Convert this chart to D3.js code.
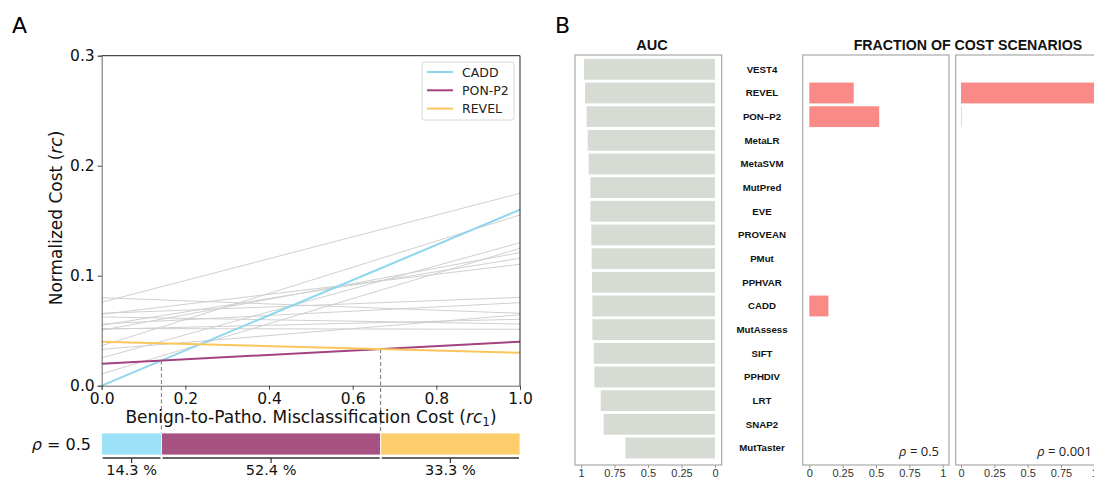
<!DOCTYPE html>
<html>
<head>
<meta charset="utf-8">
<script src="https://cdn.jsdelivr.net/npm/d3@7"></script>
<style>
  body { margin: 0; background: #fff; }
  svg { display: block; }
</style>
</head>
<body>
<div id="chart"></div>
<script>
// ---- panel A data ----
const highlightNames = ['CADD', 'PON-P2', 'REVEL']
const highlightStart = [0.0, 0.02, 0.04]
const highlightEnd = [0.16, 0.04, 0.03]
const highlightColors = ['#8dd6ee', '#a3427f', '#fbc75c']
const barColors = ['#9be0f4', '#a85283', '#fdcd6c']

const grayStart = [0.0758, 0.0364, 0.0253, 0.0107, 0.0504, 0.0549, 0.0649, 0.080, 0.0658, 0.0561, 0.0513, 0.0625, 0.052, 0.033]
const grayEnd = [0.1749, 0.1552, 0.130, 0.1249, 0.121, 0.1158, 0.1104, 0.0658, 0.0803, 0.0755, 0.0604, 0.0561, 0.0513, 0.0645]

const segmentShares = [0.143, 0.524, 0.333]
const segmentLabels = ['14.3 %', '52.4 %', '33.3 %']
const crossings = [1 / 7, 2 / 3]

// ---- panel B data ----
const tools = ['VEST4', 'REVEL', 'PON\u2013P2', 'MetaLR', 'MetaSVM', 'MutPred', 'EVE', 'PROVEAN', 'PMut', 'PPHVAR', 'CADD', 'MutAssess', 'SIFT', 'PPHDIV', 'LRT', 'SNAP2', 'MutTaster']
const auc = [0.978, 0.970, 0.958, 0.950, 0.943, 0.930, 0.930, 0.923, 0.920, 0.918, 0.915, 0.915, 0.905, 0.900, 0.853, 0.831, 0.669]
const fracRho05 = [0, 0.333, 0.524, 0, 0, 0, 0, 0, 0, 0, 0.143, 0, 0, 0, 0, 0, 0]
const fracRho0001 = [0, 1.0, 0.003, 0, 0, 0, 0, 0, 0, 0, 0, 0, 0, 0, 0, 0, 0]
const fracTicks = [0, 0.25, 0.5, 0.75, 1]

const svg = d3
  .select('#chart')
  .append('svg')
  .attr('width', 1094)
  .attr('height', 479)

const fontA = 'DejaVu Sans'
const fontB = 'Liberation Sans'

// ================= PANEL A =================
const xA = d3.scaleLinear().domain([0, 1]).range([101.7, 520])
const yA = d3.scaleLinear().domain([0, 0.3]).range([385.7, 55.7])

svg.append('text')
  .attr('x', 12).attr('y', 33)
  .attr('font-family', fontA).attr('font-size', 22)
  .text('A')

// gray lines
grayStart.forEach((s, i) => {
  svg.append('line')
    .attr('x1', xA(0)).attr('y1', yA(s))
    .attr('x2', xA(1)).attr('y2', yA(grayEnd[i]))
    .attr('stroke', '#d0d0d0').attr('stroke-width', 1)
})

// dashed crossing lines
crossings.forEach(c => {
  const yv = 0.02 + 0.02 * c
  svg.append('line')
    .attr('x1', xA(c)).attr('x2', xA(c))
    .attr('y1', yA(yv)).attr('y2', 433)
    .attr('stroke', '#8a8a8a').attr('stroke-width', 1.2)
    .attr('stroke-dasharray', '4,2.5')
})

// highlighted lines
highlightNames.forEach((n, i) => {
  svg.append('line')
    .attr('x1', xA(0)).attr('y1', yA(highlightStart[i]))
    .attr('x2', xA(1)).attr('y2', yA(highlightEnd[i]))
    .attr('stroke', highlightColors[i]).attr('stroke-width', 2)
})

// axes
const yAxisA = d3.axisLeft(yA).tickValues([0, 0.1, 0.2, 0.3]).tickFormat(d3.format('.1f')).tickSize(4).tickPadding(3)
const gy = svg.append('g').attr('transform', `translate(${xA(0)},0)`).call(yAxisA)
const xAxisA = d3.axisBottom(xA).tickValues([0, 0.2, 0.4, 0.6, 0.8, 1]).tickFormat(d3.format('.1f')).tickSize(4).tickPadding(3)
const gx = svg.append('g').attr('transform', `translate(0,${yA(0)})`).call(xAxisA)
;[gx, gy].forEach(g => {
  g.selectAll('text').attr('font-family', fontA).attr('font-size', 15.5).attr('fill', '#111')
  g.selectAll('line').attr('stroke', '#444')
  g.select('.domain').attr('stroke', '#666')
})
svg.append('line').attr('x1', xA(0)).attr('x2', xA(1)).attr('y1', yA(0.3)).attr('y2', yA(0.3)).attr('stroke', '#222')
svg.append('line').attr('x1', xA(1)).attr('x2', xA(1)).attr('y1', yA(0.3)).attr('y2', yA(0)).attr('stroke', '#222')

// axis labels
const yl = svg.append('text')
  .attr('transform', 'translate(62,218) rotate(-90)')
  .attr('text-anchor', 'middle')
  .attr('font-family', fontA).attr('font-size', 17).attr('fill', '#111')
yl.append('tspan').text('Normalized Cost (')
yl.append('tspan').attr('font-style', 'italic').text('rc')
yl.append('tspan').text(')')

const xl = svg.append('text')
  .attr('x', 311).attr('y', 423)
  .attr('text-anchor', 'middle')
  .attr('font-family', fontA).attr('font-size', 17).attr('fill', '#111')
xl.append('tspan').text('Benign-to-Patho. Misclassification Cost (')
xl.append('tspan').attr('font-style', 'italic').text('rc')
xl.append('tspan').attr('font-size', 12).attr('dy', 3).text('1')
xl.append('tspan').attr('dy', -3).text(')')

// legend
svg.append('rect')
  .attr('x', 422).attr('y', 62).attr('width', 92).attr('height', 58)
  .attr('rx', 2).attr('fill', '#fff').attr('fill-opacity', 0.85)
  .attr('stroke', '#d8d8d8')
highlightNames.forEach((n, i) => {
  const yy = 72 + i * 18.3
  svg.append('line')
    .attr('x1', 427).attr('x2', 453).attr('y1', yy).attr('y2', yy)
    .attr('stroke', highlightColors[i]).attr('stroke-width', 2)
  svg.append('text')
    .attr('x', 462).attr('y', yy + 4.5)
    .attr('font-family', fontA).attr('font-size', 12.5).attr('fill', '#222')
    .text(n)
})

// bottom bar
let cum = 0
const segs = segmentShares.map((s, i) => {
  const seg = { start: cum, end: cum + s, label: segmentLabels[i], color: barColors[i] }
  cum += s
  return seg
})
svg.selectAll('.seg')
  .data(segs)
  .enter()
  .append('rect')
  .attr('class', 'seg')
  .attr('x', d => xA(d.start))
  .attr('width', d => xA(d.end) - xA(d.start))
  .attr('y', 433)
  .attr('height', 22)
  .attr('fill', d => d.color)
  .attr('stroke', '#fff').attr('stroke-width', 0.8)

segs.forEach(d => {
  svg.append('line')
    .attr('x1', xA(d.start) + 1).attr('x2', xA(d.end) - 1)
    .attr('y1', 458).attr('y2', 458)
    .attr('stroke', '#333').attr('stroke-width', 1.5)
  const cx = xA((d.start + d.end) / 2)
  svg.append('line')
    .attr('x1', cx).attr('x2', cx).attr('y1', 458).attr('y2', 463)
    .attr('stroke', '#333').attr('stroke-width', 1.2)
  svg.append('text')
    .attr('x', cx).attr('y', 475)
    .attr('text-anchor', 'middle')
    .attr('font-family', fontA).attr('font-size', 14.5).attr('fill', '#111')
    .text(d.label)
})

const rl = svg.append('text')
  .attr('x', 91).attr('y', 450)
  .attr('text-anchor', 'end')
  .attr('font-family', fontA).attr('font-size', 16).attr('fill', '#111')
rl.append('tspan').attr('font-style', 'italic').text('\u03c1')
rl.append('tspan').text(' = 0.5')

// ================= PANEL B =================
svg.append('text')
  .attr('x', 555).attr('y', 33)
  .attr('font-family', fontA).attr('font-size', 22)
  .text('B')

const yB = d3.scaleBand().domain(tools).range([57.5, 459.8]).paddingInner(0.12).paddingOuter(0.06)
const boxTop = 55
const boxBottom = 465

function panelBox(x0, x1) {
  svg.append('rect')
    .attr('x', x0).attr('y', boxTop)
    .attr('width', x1 - x0).attr('height', boxBottom - boxTop)
    .attr('fill', 'none').attr('stroke', '#a9a9a9').attr('stroke-width', 1.2)
}

function bottomAxis(scale) {
  const g = svg.append('g')
    .attr('transform', `translate(0,${boxBottom})`)
    .call(d3.axisBottom(scale).tickValues(fracTicks).tickFormat(d => String(d)).tickSize(3).tickPadding(1))
  g.select('.domain').remove()
  g.selectAll('line').attr('stroke', '#999')
  g.selectAll('text').attr('font-family', fontB).attr('font-size', 11).attr('fill', '#333')
}

// AUC
const xAuc = d3.scaleLinear().domain([0, 1]).range([715, 581])
panelBox(575, 721.7)
svg.selectAll('.auc-bar')
  .data(tools)
  .enter()
  .append('rect')
  .attr('class', 'auc-bar')
  .attr('x', (d, i) => xAuc(auc[i]))
  .attr('width', (d, i) => xAuc(0) - xAuc(auc[i]))
  .attr('y', d => yB(d))
  .attr('height', yB.bandwidth())
  .attr('fill', '#d6dcd3')
bottomAxis(xAuc)

svg.append('text')
  .attr('x', 652).attr('y', 50)
  .attr('text-anchor', 'middle')
  .attr('font-family', fontB).attr('font-weight', 'bold').attr('font-size', 14.5)
  .attr('fill', '#111')
  .text('AUC')

// tool names
svg.selectAll('.tool-label')
  .data(tools)
  .enter()
  .append('text')
  .attr('class', 'tool-label')
  .attr('x', 762)
  .attr('y', d => yB(d) + yB.bandwidth() / 2 + 3.5)
  .attr('text-anchor', 'middle')
  .attr('font-family', fontB).attr('font-weight', 'bold').attr('font-size', 9.7)
  .attr('fill', '#111')
  .text(d => d)

// fraction panels
const fracPanels = [
  { values: fracRho05, box: [802.7, 949], range: [809.3, 942.7], rho: '0.5' },
  { values: fracRho0001, box: [955.7, 1102], range: [961, 1094.3], rho: '0.001' }
]
fracPanels.forEach(p => {
  const xs = d3.scaleLinear().domain([0, 1]).range(p.range)
  panelBox(p.box[0], p.box[1])
  svg.append('g')
    .selectAll('rect')
    .data(tools.filter((t, i) => p.values[i] > 0))
    .enter()
    .append('rect')
    .attr('x', xs(0))
    .attr('width', d => xs(p.values[tools.indexOf(d)]) - xs(0))
    .attr('y', d => yB(d))
    .attr('height', yB.bandwidth())
    .attr('fill', '#f98a88')
  bottomAxis(xs)
  const t = svg.append('text')
    .attr('x', p.box[1] - 10).attr('y', 456)
    .attr('text-anchor', 'end')
    .attr('font-family', 'Open Sans').attr('font-size', 13).attr('fill', '#222')
  t.append('tspan').attr('font-style', 'italic').text('\u03c1')
  t.append('tspan').text(' = ' + p.rho)
})

svg.append('text')
  .attr('x', 968).attr('y', 50)
  .attr('text-anchor', 'middle')
  .attr('font-family', fontB).attr('font-weight', 'bold').attr('font-size', 14.2)
  .attr('fill', '#111')
  .text('FRACTION OF COST SCENARIOS')
</script>
</body>
</html>
